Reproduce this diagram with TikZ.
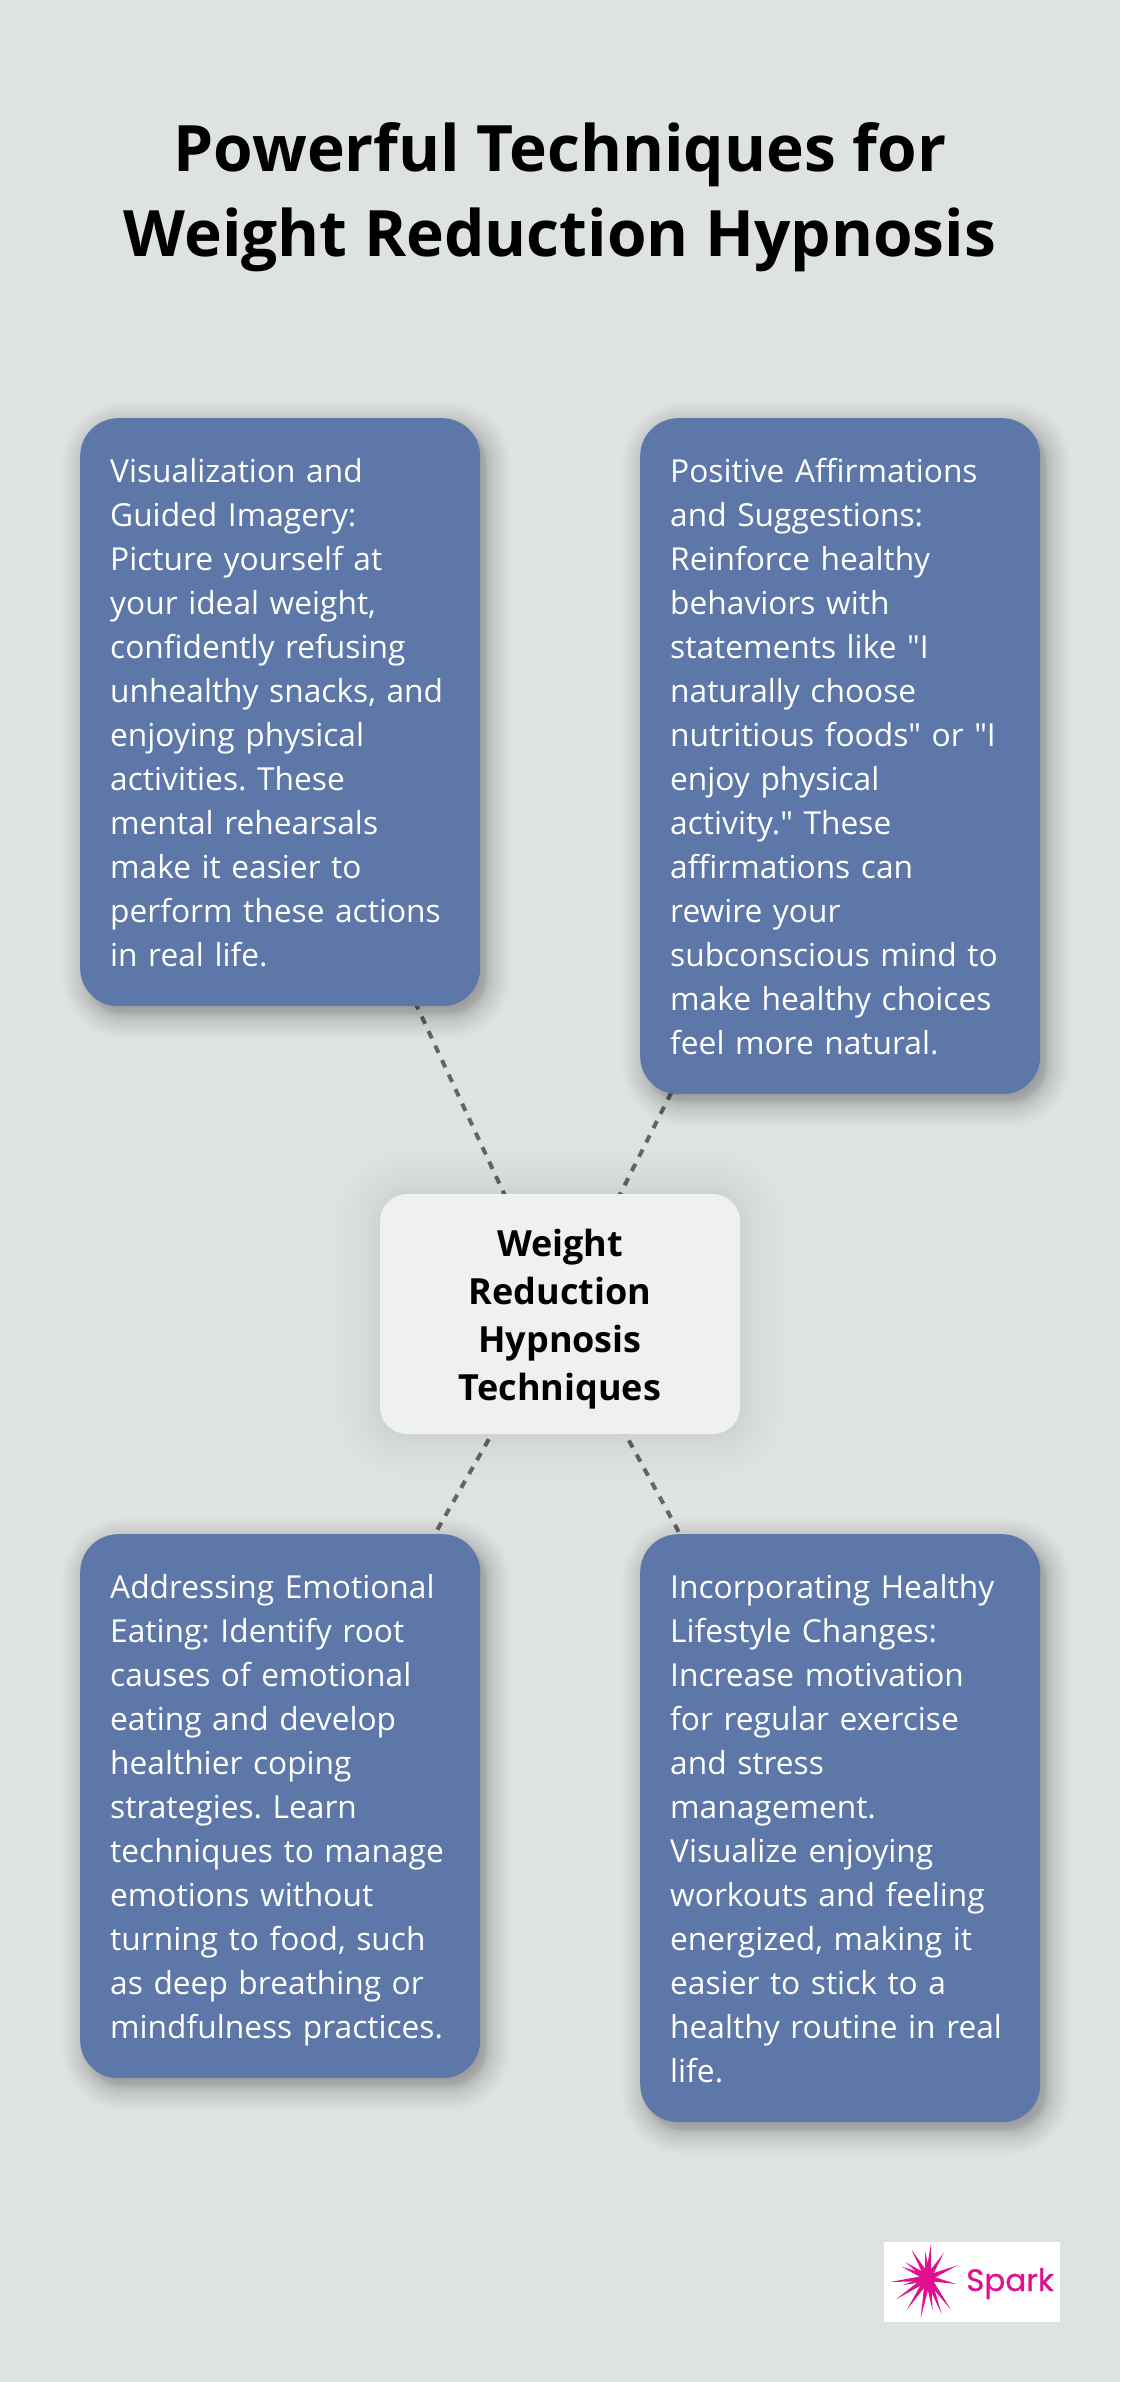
\documentclass[tikz,border=0pt]{standalone}
\usepackage{fontspec}
\setmainfont[Ligatures=TeXOff]{Open Sans}
\newfontfamily\logofont[FakeBold=0.7]{Poppins}
\usetikzlibrary{calc,backgrounds}
\definecolor{pagebg}{HTML}{DEE2E1}
\definecolor{cardblue}{HTML}{5C77A8}
\definecolor{centerfill}{HTML}{EFF1F1}
\definecolor{dashgrey}{HTML}{666666}
\definecolor{sparkpink}{HTML}{E0108F}
\pgfdeclarelayer{pagelayer}
\pgfdeclarelayer{edgelayer}
\pgfdeclarelayer{shadowlayer}
\pgfsetlayers{pagelayer,edgelayer,shadowlayer,main}
\newcommand{\cardtop}{\rule{0pt}{34pt}}
\newcommand{\cardend}{\rule[-10pt]{0pt}{10pt}}
\newcommand{\hubtop}{\rule{0pt}{38pt}}
\newcommand{\hubend}{\rule[-10pt]{0pt}{10pt}}
\tikzset{
  card/.style={draw=none,fill=cardblue,text=white,rounded corners=38pt,anchor=north west,
    inner sep=30pt,text width=340pt,minimum width=400pt,align=left,
    font=\frenchspacing\fontsize{31.7}{44}\selectfont},
  hub/.style={draw=none,fill=centerfill,text=black,rounded corners=27pt,anchor=center,
    inner sep=20pt,text width=320pt,minimum width=360pt,minimum height=240pt,align=center,
    font=\bfseries\fontsize{36}{48}\selectfont},
  titletext/.style={text=black,align=center,font=\bfseries\fontsize{64}{85}\selectfont},
  linkline/.style={draw=dashgrey,line width=4pt,dash pattern=on 8pt off 8pt},
}
% name, dx, dy, blur, total opacity, radius
\newcommand{\softshade}[6]{%
  \begin{pgfonlayer}{shadowlayer}
  \foreach \i in {0,...,31}{
    \pgfmathsetmacro{\uu}{1-\i/15.5}
    \pgfmathsetmacro{\ee}{#4*(\uu<0?-1:1)*abs(\uu)^1.5}
    \pgfmathsetmacro{\rr}{max(#6+\ee,1)}
    \fill[black,opacity=#5/32,rounded corners=\rr pt]
      ($(#1.south west)+(#2-\ee,#3+\ee)$) rectangle ($(#1.north east)+(#2+\ee,#3-\ee)$);
  }
  \end{pgfonlayer}}
\begin{document}
\begin{tikzpicture}[x=1pt,y=-1pt]
\useasboundingbox (0,0) rectangle (1120,2382);
\begin{pgfonlayer}{pagelayer}
  \fill[pagebg] (0,0) rectangle (1120,2382);
\end{pgfonlayer}

\node[titletext] (title) at (560,197) {Powerful Techniques for\\Weight Reduction Hypnosis};

\node[card,minimum height=588pt] (tl) at (80,418) {\cardtop Visualization and\\Guided Imagery:\\Picture yourself at\\your ideal weight,\\confidently refusing\\unhealthy snacks, and\\enjoying physical\\activities. These\\mental rehearsals\\make it easier to\\perform these actions\\in real life.\cardend};
\node[card,minimum height=676pt] (tr) at (640,418) {\cardtop Positive Affirmations\\and Suggestions:\\Reinforce healthy\\behaviors with\\statements like "I\\naturally choose\\nutritious foods" or "I\\enjoy physical\\activity." These\\affirmations can\\rewire your\\subconscious mind to\\make healthy choices\\feel more natural.\cardend};
\node[card,minimum height=544pt] (bl) at (80,1534) {\cardtop Addressing Emotional\\Eating: Identify root\\causes of emotional\\eating and develop\\healthier coping\\strategies. Learn\\techniques to manage\\emotions without\\turning to food, such\\as deep breathing or\\mindfulness practices.\cardend};
\node[card,minimum height=588pt] (br) at (640,1534) {\cardtop Incorporating Healthy\\Lifestyle Changes:\\Increase motivation\\for regular exercise\\and stress\\management.\\Visualize enjoying\\workouts and feeling\\energized, making it\\easier to stick to a\\healthy routine in real\\life.\cardend};
\node[hub] (hub) at (560,1314) {\hubtop Weight\\Reduction\\Hypnosis\\Techniques\hubend};

\softshade{tl}{6}{8}{24}{0.36}{38}
\softshade{tr}{6}{8}{24}{0.36}{38}
\softshade{bl}{6}{8}{24}{0.36}{38}
\softshade{br}{6}{8}{24}{0.36}{38}
\softshade{hub}{0}{0}{44}{0.09}{27}

\begin{pgfonlayer}{edgelayer}
  \draw[linkline] (hub.center) -- (tl.center);
  \draw[linkline] (hub.center) -- (tr.center);
  \draw[linkline] (hub.center) -- (bl.center);
  \draw[linkline] (hub.center) -- (br.center);
\end{pgfonlayer}

% logo
\node[fill=white,minimum width=176pt,minimum height=80pt,inner sep=0pt,anchor=north west] (logobox) at (884,2242) {};
\coordinate (sparkc) at (928,2278);
\fill[sparkpink] (sparkc) circle (7pt);
\foreach \a/\b in {213/72,252/98,292/136,288/192,272/268,245/282,218/272,182/295,140/270,108/238,90/186,125/140,137/127,155/90,195/93,228/130,240/225,152/150,130/195}{
  \coordinate (tip) at ({860+\a/3},{2220+\b/3});
  \fill[sparkpink] ($(sparkc)!3pt!90:(tip)$) -- (tip) -- ($(sparkc)!3pt!-90:(tip)$) -- cycle;
}
\node[text=sparkpink,font=\logofont\fontsize{31}{36}\selectfont,inner sep=0pt,anchor=base west] (sparkword) at (966,2291) {Spark};
\end{tikzpicture}
\end{document}
